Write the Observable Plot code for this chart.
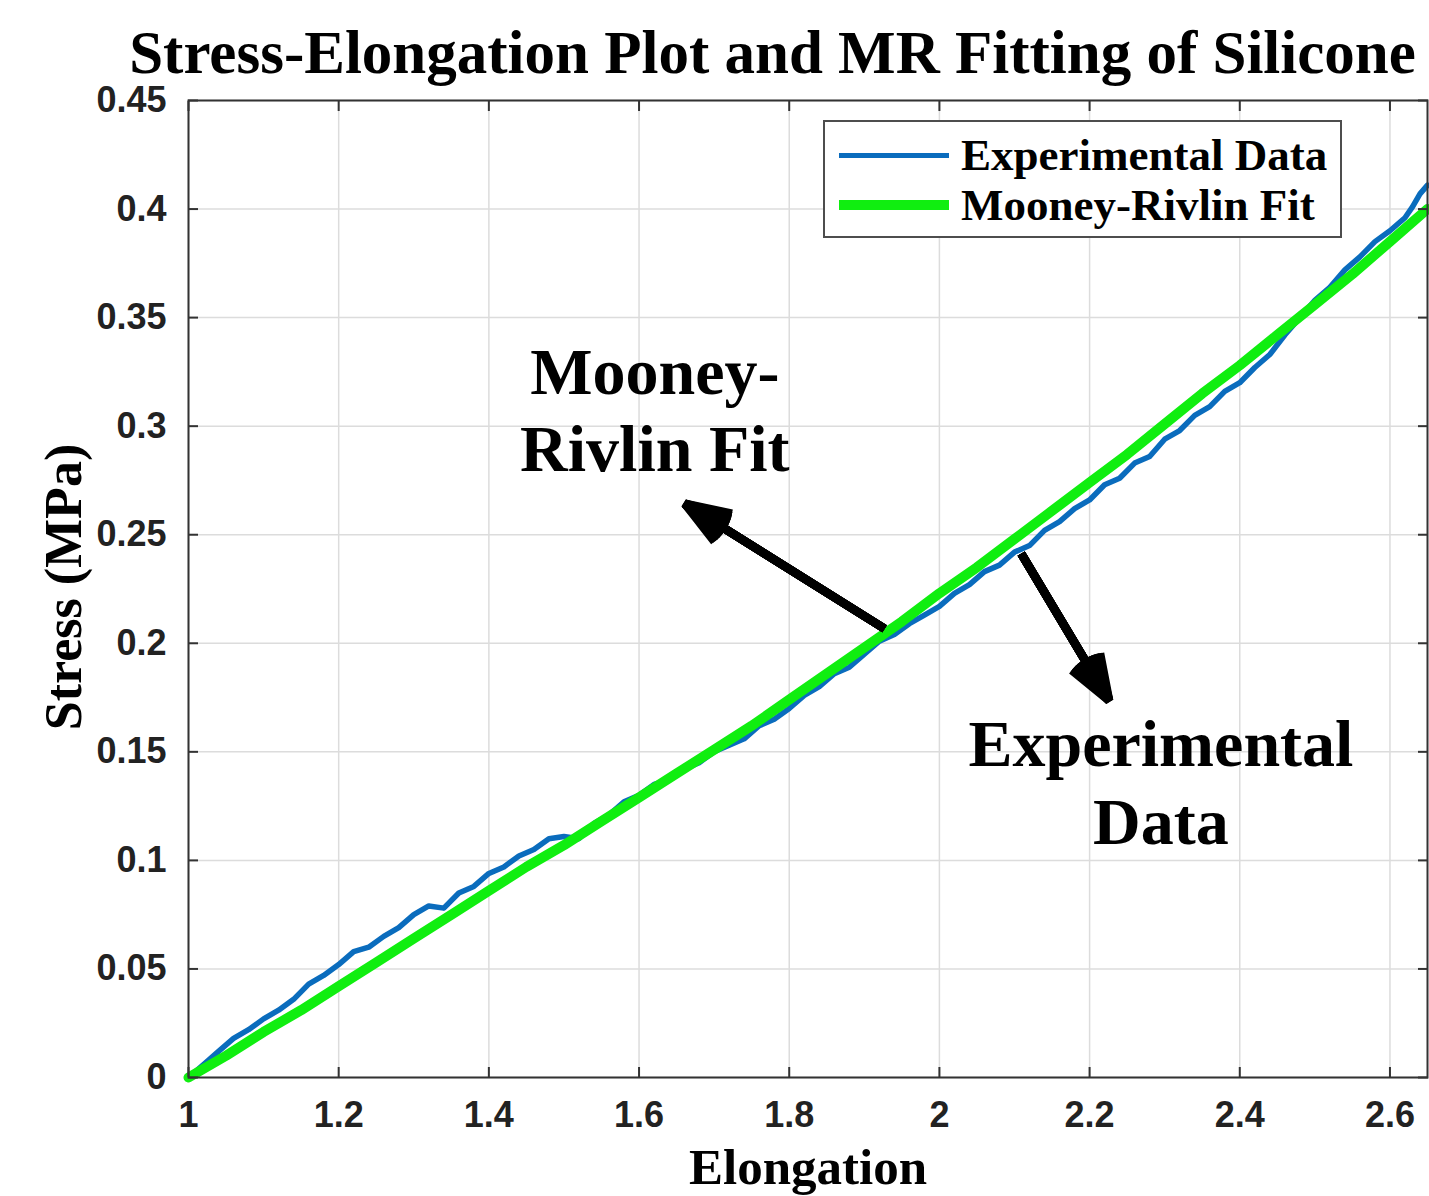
<!DOCTYPE html>
<html><head><meta charset="utf-8">
<script src="https://cdn.jsdelivr.net/npm/d3@7"></script>
<script src="https://cdn.jsdelivr.net/npm/@observablehq/plot@0.6"></script>
<style>
body{margin:0;background:#fff;width:1429px;height:1196px;overflow:hidden;position:relative;}
#title{position:absolute;left:100px;top:31px;width:1345px;text-align:center;font:bold 61px "Liberation Serif","Times New Roman",serif;line-height:44px;white-space:nowrap;z-index:2;}
#chart{position:absolute;left:0;top:40px;z-index:1;}
#ylabel{position:absolute;left:63px;top:587px;transform:translate(-50%,-50%) rotate(-90deg);font:bold 52px "Liberation Serif","Times New Roman",serif;white-space:nowrap;z-index:2;}
#legend{position:absolute;left:823px;top:120px;width:515px;height:114px;border:2px solid #4d4d4d;background:#fff;font:bold 45px "Liberation Serif","Times New Roman",serif;z-index:3;}
.row{position:absolute;left:0;height:50px;display:flex;align-items:center;white-space:nowrap;}
.sw{display:inline-block;width:110px;margin-left:14px;margin-right:12px;}
</style></head><body>
<div id="title">Stress-Elongation Plot and MR Fitting of Silicone</div>
<div id="chart"></div>
<div id="ylabel">Stress (MPa)</div>
<div id="legend">
  <div class="row" style="top:8px"><span class="sw" style="height:5px;background:#0a6cbd"></span>Experimental Data</div>
  <div class="row" style="top:58px"><span class="sw" style="height:10px;background:#10ee10"></span>Mooney-Rivlin Fit</div>
</div>
<script>
// ---- data ----
const xTicks = [1, 1.2, 1.4, 1.6, 1.8, 2, 2.2, 2.4, 2.6];
const yTicks = [0, 0.05, 0.1, 0.15, 0.2, 0.25, 0.3, 0.35, 0.4, 0.45];

const expX = [1.00,1.02,1.04,1.06,1.08,1.10,1.12,1.14,1.16,1.18,1.20,1.22,1.24,1.26,1.28,1.30,1.32,1.34,1.36,1.38,1.40,1.42,1.44,1.46,1.48,1.50,1.52,1.54,1.56,1.58,1.60,1.62,1.64,1.66,1.68,1.70,1.72,1.74,1.76,1.78,1.80,1.82,1.84,1.86,1.88,1.90,1.92,1.94,1.96,1.98,2.00,2.02,2.04,2.06,2.08,2.10,2.12,2.14,2.16,2.18,2.20,2.22,2.24,2.26,2.28,2.30,2.32,2.34,2.36,2.38,2.40,2.42,2.44,2.46,2.48,2.50,2.52,2.54,2.56,2.58,2.60,2.62,2.63,2.64,2.65];
const expStress = [0.000,0.006,0.012,0.018,0.022,0.027,0.031,0.036,0.043,0.047,0.052,0.058,0.060,0.065,0.069,0.075,0.079,0.078,0.085,0.088,0.094,0.097,0.102,0.105,0.110,0.111,0.110,0.117,0.121,0.127,0.130,0.135,0.137,0.142,0.145,0.150,0.153,0.156,0.162,0.165,0.170,0.176,0.180,0.186,0.189,0.195,0.201,0.204,0.209,0.213,0.217,0.223,0.227,0.233,0.236,0.242,0.245,0.252,0.256,0.262,0.266,0.273,0.276,0.283,0.286,0.294,0.298,0.305,0.309,0.316,0.320,0.327,0.333,0.342,0.350,0.358,0.364,0.372,0.378,0.385,0.390,0.396,0.401,0.407,0.411];

const fitX = [1.00,1.05,1.10,1.15,1.20,1.25,1.30,1.35,1.40,1.45,1.50,1.55,1.60,1.65,1.70,1.75,1.80,1.85,1.90,1.95,2.00,2.05,2.10,2.15,2.20,2.25,2.30,2.35,2.40,2.45,2.50,2.55,2.60,2.65];
const fitStress = [0.000,0.010,0.021,0.031,0.042,0.053,0.064,0.075,0.086,0.097,0.107,0.118,0.129,0.140,0.151,0.162,0.174,0.186,0.198,0.210,0.223,0.235,0.248,0.261,0.274,0.287,0.301,0.315,0.328,0.342,0.356,0.370,0.385,0.400];

const annoText = ["Mooney-\nRivlin Fit", "Experimental\nData"];
const annoX = [1.621, 2.295];
const annoY = [0.340, 0.1685];

const arrowX1 = [1.927, 2.109];
const arrowY1 = [0.2067, 0.2413];
const arrowX2 = [1.661, 2.226];
const arrowY2 = [0.2643, 0.1736];

const xLabel = "Elongation";

// ---- tables ----
const expData = expX.map((x, i) => ({x, y: expStress[i]}));
const fitData = fitX.map((x, i) => ({x, y: fitStress[i]}));
const annos = annoText.map((t, i) => ({t, x: annoX[i], y: annoY[i]}));
const arrows = arrowX1.map((x1, i) => ({x1, y1: arrowY1[i], x2: arrowX2[i], y2: arrowY2[i]}));

const fmt = d => String(+d.toFixed(2));
const serif = "'Liberation Serif','Times New Roman',serif";
const sans = "'Liberation Sans',Arial,sans-serif";

// filled-looking arrowheads: several arrows with increasing head angles
const arrowMarks = [4, 10, 16, 22, 28, 34, 40].map(a =>
  Plot.arrow(arrows, {x1: "x1", y1: "y1", x2: "x2", y2: "y2", stroke: "black", strokeWidth: 8.5, headLength: 8.5, headAngle: a, strokeLinecap: "butt"})
);

const chart = Plot.plot({
  width: 1429, height: 1156,
  marginLeft: 188, marginRight: 2, marginTop: 60, marginBottom: 119,
  x: {domain: [1, 2.65]},
  y: {domain: [0, 0.45]},
  style: {background: "transparent", fontFamily: sans, fontWeight: "bold", fontSize: "36px", color: "#222"},
  marks: [
    Plot.gridX(xTicks, {stroke: "#dcdcdc", strokeOpacity: 1, strokeWidth: 1.5}),
    Plot.gridY(yTicks, {stroke: "#dcdcdc", strokeOpacity: 1, strokeWidth: 1.5}),
    Plot.line(expData, {x: "x", y: "y", stroke: "#0a6cbd", strokeWidth: 5.5}),
    Plot.line(fitData, {x: "x", y: "y", stroke: "#10ee10", strokeWidth: 10}),
    ...arrowMarks,
    Plot.text(annos, {x: "x", y: "y", text: "t", lineAnchor: "top", lineHeight: 1.17, fontSize: 66, fontFamily: serif, fontWeight: "bold", fill: "black", textAnchor: "middle"}),
    Plot.frame({stroke: "#333", strokeWidth: 2}),
    Plot.axisX(xTicks, {anchor: "bottom", tickSize: -10, tickPadding: 34, tickFormat: fmt, label: null, stroke: "#333", strokeWidth: 2}),
    Plot.axisX(xTicks, {anchor: "top", tickSize: -10, tickFormat: () => "", label: null, stroke: "#333", strokeWidth: 2}),
    Plot.axisY(yTicks, {anchor: "left", tickSize: -10, tickPadding: 32, tickFormat: fmt, label: null, stroke: "#333", strokeWidth: 2}),
    Plot.axisY(yTicks, {anchor: "right", tickSize: -10, tickFormat: () => "", label: null, stroke: "#333", strokeWidth: 2}),
    Plot.text([xLabel], {frameAnchor: "bottom", dy: 106, fontSize: 51, fontFamily: serif, fontWeight: "bold", fill: "black", lineAnchor: "bottom"})
  ]
});
document.getElementById("chart").appendChild(chart);
</script>
</body></html>
